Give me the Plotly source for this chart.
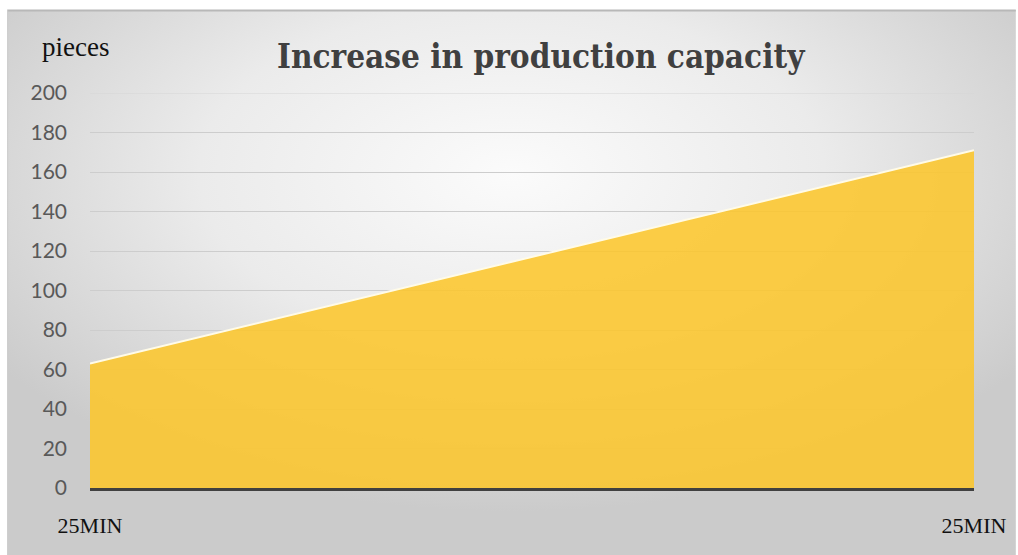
import base64
import plotly.graph_objects as go

categories = ["25MIN", "25MIN"]
pieces = [63, 171]
y_ticks = [0, 20, 40, 60, 80, 100, 120, 140, 160, 180, 200]

W, H = 1018, 555
L, R, T, B = 90, 42, 93, 67
pw, ph = W - L - R, H - T - B

svg = f'''<svg xmlns="http://www.w3.org/2000/svg" width="{W}" height="{H}" viewBox="0 0 {W} {H}">
<defs><radialGradient id="g" cx="50%" cy="30%" r="62%">
<stop offset="0" stop-color="#fbfbfb"/><stop offset="0.5" stop-color="#ebebeb"/><stop offset="1" stop-color="#cbcbcb"/>
</radialGradient></defs>
<rect x="0" y="0" width="{W}" height="{H}" fill="#ffffff"/>
<rect x="7" y="10" width="{W-7}" height="{H-10}" fill="url(#g)"/>
<line x1="7" y1="10.5" x2="{W}" y2="10.5" stroke="#b8b8b8" stroke-width="2"/>
<line x1="7.5" y1="10" x2="7.5" y2="{H}" stroke="#cccccc" stroke-width="1"/>
</svg>'''
src = "data:image/svg+xml;base64," + base64.b64encode(svg.encode()).decode()

xs = list(range(len(categories)))
fig = go.Figure()
fig.add_trace(go.Scatter(
    x=xs, y=pieces, mode="lines", fill="tozeroy",
    fillcolor="rgba(252,198,44,0.88)",
    line=dict(color="#fffbe8", width=2),
    hoverinfo="skip", showlegend=False,
))

fig.update_layout(
    width=W, height=H,
    margin=dict(l=L, r=R, t=T, b=B, pad=0),
    paper_bgcolor="white", plot_bgcolor="rgba(0,0,0,0)",
    images=[dict(source=src, xref="paper", yref="paper",
                 x=-L / pw, y=1 + T / ph, sizex=W / pw, sizey=H / ph,
                 xanchor="left", yanchor="top", sizing="stretch", layer="below")],
    xaxis=dict(range=[0, len(categories) - 1], tickvals=xs, ticktext=categories,
               showgrid=False, zeroline=False, showline=True, linecolor="#404040",
               linewidth=3, ticks="", ticklabelstandoff=16,
               tickfont=dict(family="Liberation Serif", size=22, color="#111111")),
    yaxis=dict(range=[0, 200], tickvals=y_ticks, showgrid=True, gridcolor="#cdcdcd",
               gridwidth=1.2, zeroline=False, showline=False, ticks="",
               ticklabelstandoff=22,
               tickfont=dict(family="Lato", size=21, color="#595959")),
    shapes=[dict(type="line", xref="paper", yref="y", x0=0, x1=1, y0=200, y1=200,
                 line=dict(color="#d6d6d6", width=1.2), layer="below")],
    annotations=[
        dict(text="<b>Increase in production capacity</b>", xref="paper", yref="paper",
             x=(542 - L) / pw, y=1 + (T - 57) / ph, xanchor="center", yanchor="middle",
             showarrow=False, font=dict(family="DejaVu Serif Condensed", size=33, color="#404040")),
        dict(text="pieces", xref="paper", yref="paper",
             x=(40 - L) / pw, y=1 + (T - 47) / ph, xanchor="left", yanchor="middle",
             showarrow=False, font=dict(family="Liberation Serif", size=27, color="#111111")),
    ],
)

fig.write_html("out.html")
